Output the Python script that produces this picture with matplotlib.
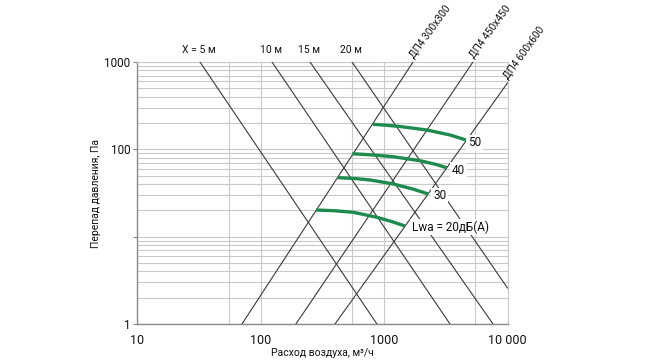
import matplotlib
matplotlib.use("Agg")
import matplotlib.pyplot as plt
from matplotlib.ticker import FixedLocator, NullFormatter

plt.rcParams['font.family'] = ['Roboto', 'DejaVu Sans']

# ---- data ----
# descending lines (throw distance X): two points each (Q, dp)
x_labels = ['X = 5 м', '10 м', '15 м', '20 м']
x_q1 = [32.2, 123.5, 251, 550]
x_dp1 = [1000, 1000, 1000, 1000]
x_q2 = [875, 3420, 7630, 10000]
x_dp2 = [1, 1, 1, 2.58]

# ascending lines (diffuser size)
d_labels = ['ДП4 300x300', 'ДП4 450x450', 'ДП4 600x600']
d_q1 = [70.5, 193, 400]
d_dp1 = [1, 1, 1]
d_q2 = [1714, 5248, 10000]
d_dp2 = [1000, 1000, 575]

# sound power curves Lwa
lwa_labels = ['Lwa = 20дБ(A)', '30', '40', '50']
lwa_q = [
    [281, 400, 563, 871, 1150, 1476],
    [421, 580, 769, 1189, 1700, 2280],
    [552, 800, 1180, 1954, 2600, 3213],
    [813, 1050, 1346, 2228, 3420, 4613],
]
lwa_dp = [
    [20.2, 19.8, 19.0, 16.7, 14.9, 13.25],
    [47.4, 46.3, 44.6, 40.1, 35.2, 30.8],
    [89.1, 86.3, 82.4, 74.1, 67.5, 61.6],
    [193.6, 188.5, 182.6, 166.4, 146, 128],
]
lwa_offsets = [(7, -1), (5, -2), (5, -3), (2, -3)]

x_ticks = [10, 100, 1000, 10000]
x_ticklabels = ['10', '100', '1000', '10 000']
y_ticks = [1, 10, 100, 1000]
y_ticklabels = ['1', '', '100', '1000']
x_grid_minor = [55, 550, 5500]

# ---- figure ----
fig = plt.figure(figsize=(6.6, 3.6), dpi=100)
ax = fig.add_axes([137.3 / 660, 1 - 324 / 360, 370.2 / 660, 262 / 360])
ax.set_xscale('log')
ax.set_yscale('log')
ax.set_xlim(10, 10000)
ax.set_ylim(1, 1000)

grid_c = '#c9c9c9'
ax.xaxis.set_major_locator(FixedLocator(x_ticks))
ax.xaxis.set_minor_locator(FixedLocator(x_grid_minor))
ax.xaxis.set_minor_formatter(NullFormatter())
ax.set_xticklabels(x_ticklabels)
ax.yaxis.set_major_locator(FixedLocator(y_ticks))
ax.set_yticklabels(y_ticklabels)
ax.grid(True, which='both', color=grid_c, linewidth=0.8)
ax.set_axisbelow(True)

ax.tick_params(axis='x', which='both', length=0, pad=7, labelsize=9, colors='#111111')
ax.tick_params(axis='y', which='major', length=3, width=0.8, color='#888888', pad=2,
               labelsize=8.5, labelcolor='#111111')
ax.tick_params(axis='y', which='minor', length=0)

for s in ['top', 'right']:
    ax.spines[s].set_color(grid_c)
    ax.spines[s].set_linewidth(0.8)
for s in ['left', 'bottom']:
    ax.spines[s].set_color('#8a8a8a')
    ax.spines[s].set_linewidth(1.0)

line_c = '#3a3a3a'
for lab, q1, p1, q2, p2 in zip(x_labels, x_q1, x_dp1, x_q2, x_dp2):
    ax.plot([q1, q2], [p1, p2], color=line_c, lw=0.8, zorder=3)
    ax.annotate(lab, (q1, p1), xytext=(-1, 7), textcoords='offset pixels',
                ha='center', va='bottom', fontsize=7.5, color='#111111',
                annotation_clip=False)

for lab, q1, p1, q2, p2 in zip(d_labels, d_q1, d_dp1, d_q2, d_dp2):
    ax.plot([q1, q2], [p1, p2], color=line_c, lw=0.8, zorder=3)
    ax.annotate(lab, (q2, p2), xytext=(3, 2), textcoords='offset pixels',
                ha='left', va='bottom', fontsize=7.3, color='#111111',
                rotation=54, rotation_mode='anchor', annotation_clip=False)

green = '#1f8a4e'
for lab, qs, ps, off in zip(lwa_labels, lwa_q, lwa_dp, lwa_offsets):
    ax.plot(qs, ps, color=green, lw=2.4, solid_capstyle='butt', zorder=4)
    ax.annotate(lab, (qs[-1], ps[-1]), xytext=off, textcoords='offset pixels',
                ha='left', va='center', fontsize=8.5, color='#111111', zorder=5,
                bbox=dict(boxstyle='square,pad=0.15', fc='white', ec='none'))

ax.set_xlabel('Расход воздуха, м³/ч', fontsize=7.5, labelpad=1, color='#111111')
ax.set_ylabel('Перепад давления, Па', fontsize=7.5, labelpad=2, color='#111111')

fig.savefig('out.png', dpi=100)
